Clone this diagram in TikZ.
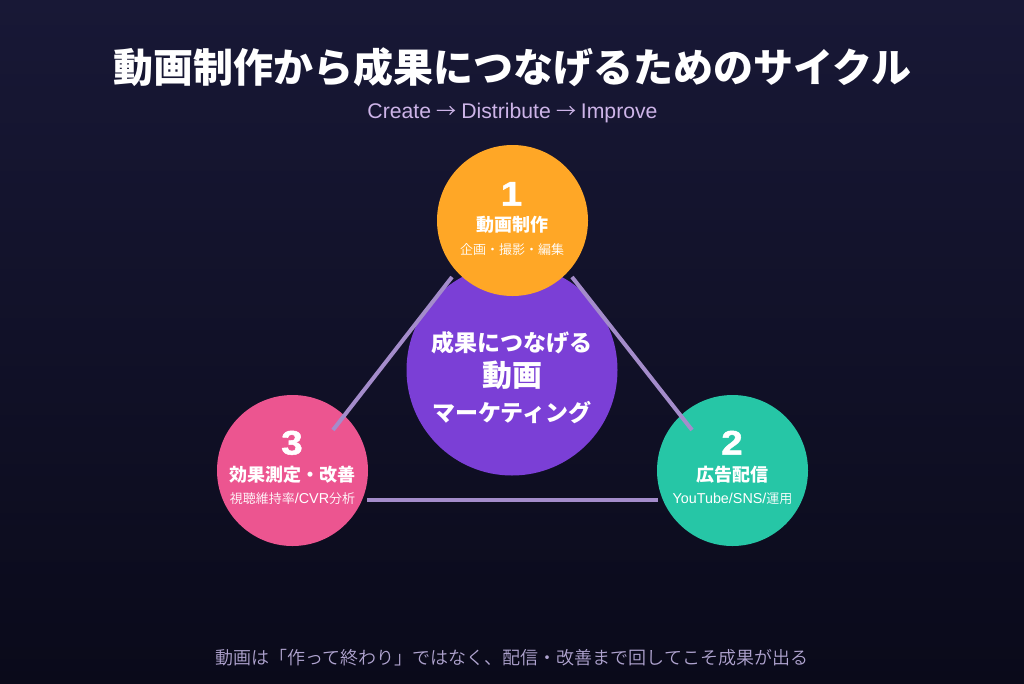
\documentclass[tikz,border=0pt]{standalone}
\usepackage{fontspec}
\setmainfont{Noto Sans CJK JP DemiLight}
\newfontfamily\blk{Noto Sans CJK JP Black}
\newfontfamily\lat{Liberation Sans}
\newfontfamily\num{Liberation Sans Bold}[FakeStretch=1.14,FakeBold=1.5]
\definecolor{bgtop}{HTML}{181836}
\definecolor{bgbot}{HTML}{0A0A1A}
\definecolor{orangec}{HTML}{FFA726}
\definecolor{tealc}{HTML}{26C6A6}
\definecolor{pinkc}{HTML}{EC5590}
\definecolor{purplec}{HTML}{7B3FD6}
\definecolor{linkc}{HTML}{A48CCB}
\definecolor{subc}{HTML}{CDB4E8}
\definecolor{footc}{HTML}{B0A4D0}
\newcommand{\fs}[1]{\fontsize{#1}{#1}\selectfont}
\tikzset{
 x=0.75pt,y=-0.75pt,
 disc/.style={circle,inner sep=0pt,minimum size=113.25pt},
 lbl/.style={text=white,inner sep=0pt,anchor=base},
 link/.style={draw=linkc,line width=3pt},
}
\begin{document}
\begin{tikzpicture}
\useasboundingbox (0,0) rectangle (1024,683);
\shade[top color=bgtop,bottom color=bgbot] (0,0) rectangle (1024,683);
\node[lbl,anchor=base] (title) at (512,82) {\blk\fs{30}動画制作から成果につなげるためのサイクル};
\node[inner sep=0pt,anchor=base,text=subc] (sub) at (512.5,118) {\fs{15}{\lat\fs{15.9}Create}\kern4pt→\kern3.6pt{\lat\fs{15.9}Distribute}\kern4pt→\kern3.6pt{\lat\fs{15.9}Improve}};
\node[circle,inner sep=0pt,minimum size=158.25pt,fill=purplec] (center) at (512,370) {};
\node[lbl] (ct1) at (512,351) {\blk\fs{17.25}成果につなげる};
\node[lbl] (ct2) at (512,386) {\blk\fs{22.5}動画};
\node[lbl] (ct3) at (512,421) {\blk\fs{17.25}マーケティング};
\node[disc,fill=pinkc] (c3) at (292.5,470.5) {};
\node[disc,fill=tealc] (c2) at (732.5,470.5) {};
\coordinate (a1) at (452,277);
\coordinate (a3) at (333,430);
\coordinate (b1) at (572,277);
\coordinate (b2) at (692,430);
\coordinate (d3) at (367,500);
\coordinate (d2) at (658,500);
\draw[link] (a1) -- (a3);
\draw[link] (b1) -- (b2);
\draw[link] (d3) -- (d2);
\node[disc,fill=orangec] (c1) at (512.5,220.5) {};
\node[lbl] (n1) at (511.5,205.5) {\num\fs{25.5}1};
\node[lbl] (t1) at (512,231) {\blk\fs{13.5}動画制作};
\node[lbl] (s1) at (512,254) {\fs{9.75}企画・撮影・編集};
\node[lbl] (n2) at (732,454.5) {\num\fs{25.5}2};
\node[lbl] (t2) at (732,481) {\blk\fs{13.5}広告配信};
\node[lbl] (s2) at (732.5,503) {\fs{9.75}{\lat\fs{10.75}YouTube/SNS/}運用};
\node[lbl] (n3) at (292,454.5) {\num\fs{25.5}3};
\node[lbl] (t3) at (292,481) {\blk\fs{13.5}効果測定・改善};
\node[lbl] (s3) at (292.5,503) {\fs{9.75}視聴維持率{\lat\fs{10.75}/CVR}分析};
\node[inner sep=0pt,anchor=base,text=footc] (foot) at (512,664) {\fs{13.5}動画は「作って終わり」ではなく、配信・改善まで回してこそ成果が出る};
\end{tikzpicture}
\end{document}
